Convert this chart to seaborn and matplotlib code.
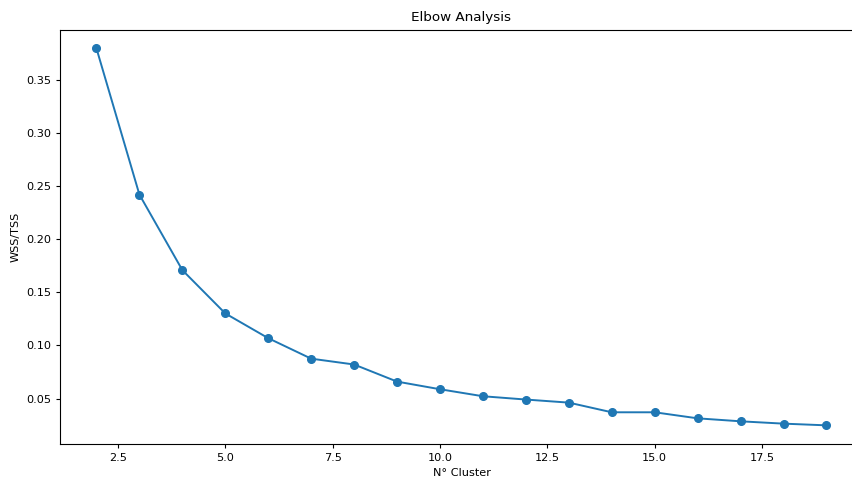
import pandas as pd
import matplotlib
matplotlib.use("Agg")
import matplotlib.pyplot as plt
import seaborn as sns

# Elbow values
n_clusters = list(range(2, 20))
wss_tss = [0.3798, 0.2421, 0.1710, 0.1302, 0.1069, 0.0876, 0.0821, 0.0660, 0.0588,
           0.0522, 0.0491, 0.0462, 0.0371, 0.0371, 0.0314, 0.0286, 0.0264, 0.0248]

df = pd.DataFrame({'N° Cluster': n_clusters, 'WSS/TSS': wss_tss})

# reference looks like a downscaled default figure, so shrink text a bit
plt.rcParams['font.size'] = 8.1
plt.rcParams['xtick.major.size'] = 2.8
plt.rcParams['ytick.major.size'] = 2.8

fig = plt.figure(figsize=(8.53, 4.8), dpi=100)
ax = fig.add_axes([0.0703, 0.0746, 0.9414, 0.8638])
sns.lineplot(data=df, x='N° Cluster', y='WSS/TSS', marker='o', color='#1f77b4',
             markeredgecolor='#1f77b4', markeredgewidth=1, markersize=5.5, linewidth=1.4, ax=ax)
ax.set_title('Elbow Analysis', fontsize=9.7)
ax.set_xlabel('N° Cluster')
ax.set_ylabel('WSS/TSS')
fig.savefig('out.png', dpi=100)
